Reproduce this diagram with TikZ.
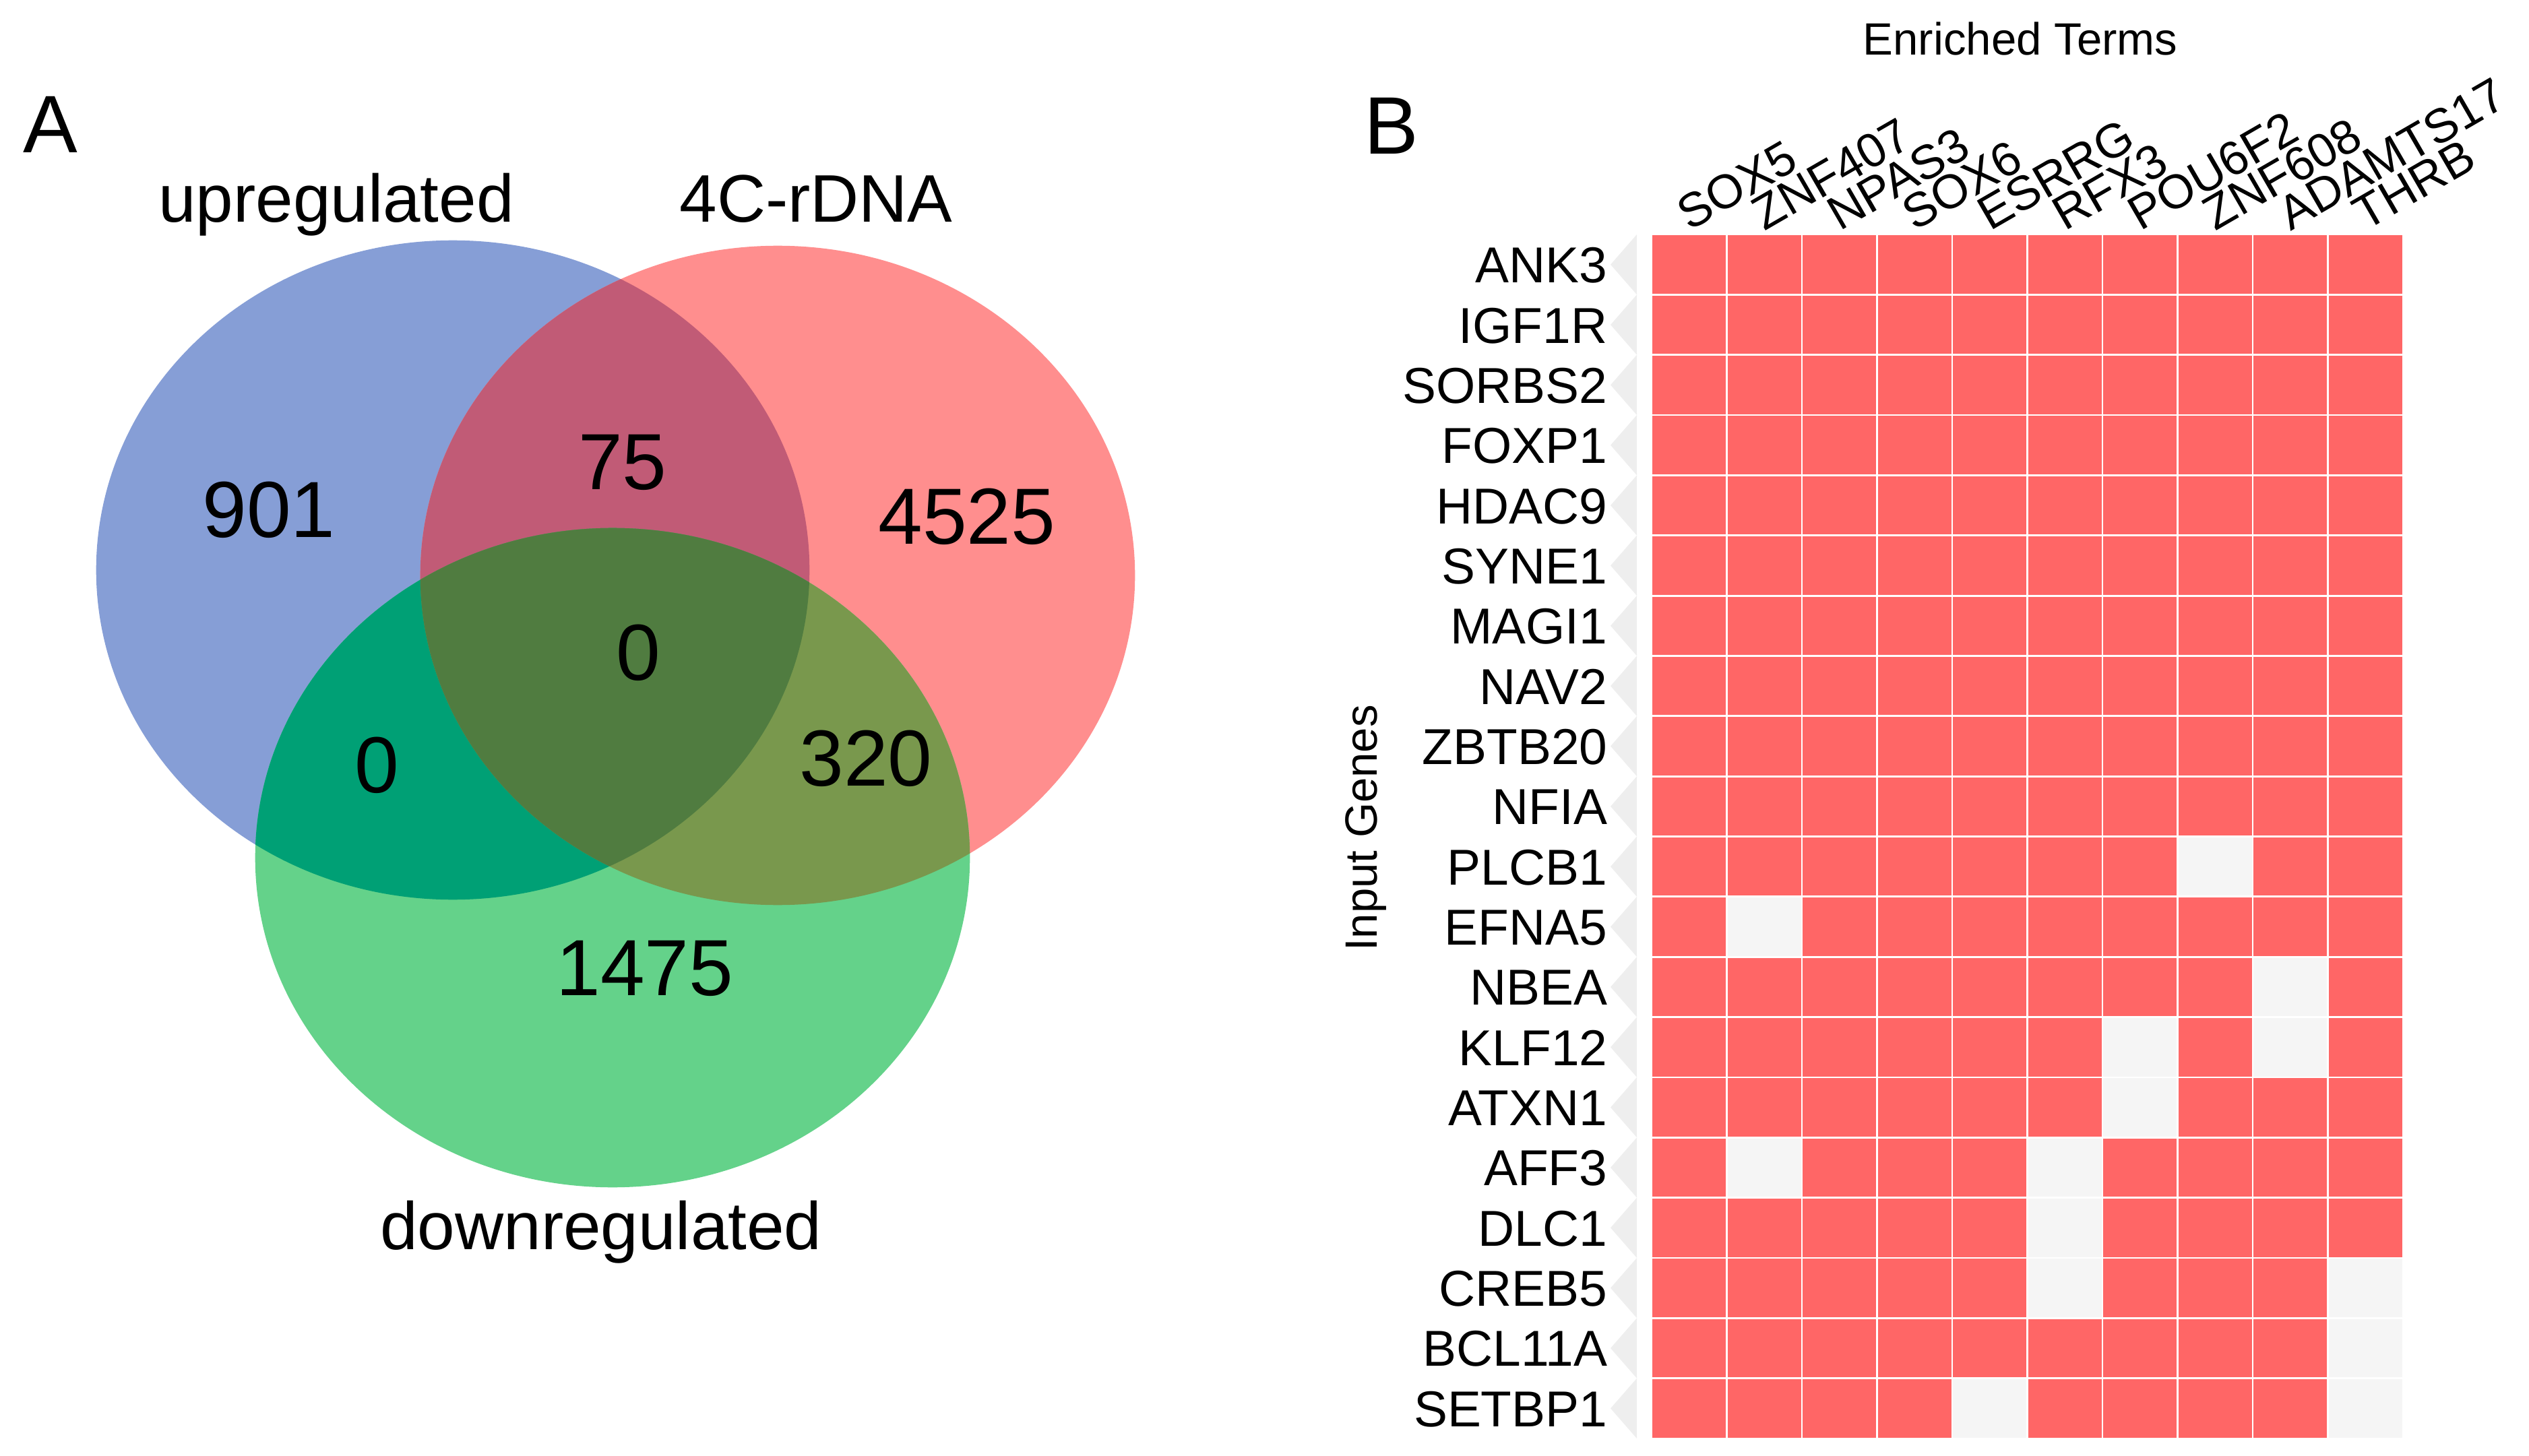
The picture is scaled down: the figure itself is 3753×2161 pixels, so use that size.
\documentclass[tikz,border=0pt]{standalone}
\usepackage{fontspec}
\setmainfont{Liberation Sans}
\usepackage{tikz}
\usetikzlibrary{positioning}

\definecolor{upblue}{RGB}{134,158,214}
\definecolor{rdnared}{RGB}{255,142,142}
\definecolor{downgreen}{RGB}{100,210,138}
\definecolor{upxrdna}{RGB}{193,91,118}
\definecolor{upxdown}{RGB}{0,160,117}
\definecolor{rdnaxdown}{RGB}{121,152,77}
\definecolor{allthree}{RGB}{80,124,64}
\definecolor{hitred}{RGB}{255,102,102}
\definecolor{missgray}{RGB}{245,245,245}
\definecolor{tabgray}{RGB}{238,238,238}

% the three sets of the venn diagram
\def\upset{(672,846) ellipse [x radius=5.29cm, y radius=4.89cm]}
\def\rdnaset{(1154,854) ellipse [x radius=5.30cm, y radius=4.89cm]}
\def\downset{(909,1273) ellipse [x radius=5.30cm, y radius=4.89cm]}

\begin{document}
\begin{tikzpicture}[x=0.01cm,y=-0.01cm]
    \tikzstyle{panel}=[anchor=base west,inner sep=0,font=\fontsize{34.4}{40}\selectfont]
    \tikzstyle{setname}=[anchor=base,inner sep=0,font=\fontsize{28.4}{34}\selectfont]
    \tikzstyle{count}=[inner sep=0,font=\fontsize{33.6}{40}\selectfont]
    \tikzstyle{genelabel}=[anchor=base east,inner sep=0,font=\fontsize{21.3}{26}\selectfont]
    \tikzstyle{termlabel}=[anchor=base west,inner sep=0,rotate=30,font=\fontsize{20.2}{24}\selectfont]
    \tikzstyle{axislabel}=[inner sep=0,font=\fontsize{19.1}{23}\selectfont]
    \tikzstyle{cell}=[draw=white,line width=0.8pt]

    \useasboundingbox (0,0) rectangle (3753,2161);

    % A: venn diagram
    \fill[upblue] \upset;
    \fill[rdnared] \rdnaset;
    \fill[downgreen] \downset;
    \begin{scope}
        \clip \upset;
        \fill[upxrdna] \rdnaset;
        \fill[upxdown] \downset;
    \end{scope}
    \begin{scope}
        \clip \rdnaset;
        \fill[rdnaxdown] \downset;
        \clip \upset;
        \fill[allthree] \downset;
    \end{scope}

    \node[panel] (A) at (34,227) {A};
    \node[setname] (up) at (499,330) {upregulated};
    \node[setname] (rdna) at (1211,330) {4C-rDNA};
    \node[setname] (down) at (892,1854) {downregulated};

    \node[count] (n100) at (399,757) {901};
    \node[count] (n110) at (924,686) {75};
    \node[count] (n010) at (1435,767) {4525};
    \node[count] (n111) at (947,969) {0};
    \node[count] (n101) at (559,1136) {0};
    \node[count] (n011) at (1285,1126) {320};
    \node[count] (n001) at (957,1437) {1475};

    % B: heatmap of genes x enriched terms
    \node[panel] (B) at (2024,229) {B};
    \node[axislabel,anchor=base] (terms) at (2998,82) {Enriched Terms};
    \node[axislabel,anchor=base,rotate=90] (genes) at (2043,1229) {Input Genes};

    \foreach \c in {0,...,9}
        \foreach \r in {0,...,19}
            \fill[hitred,cell] ({2451+\c*111.5},{348+\r*89.35}) rectangle +(111.5,89.35);
    \foreach \c/\r in {7/10,1/11,8/12,6/13,8/13,6/14,1/15,5/15,5/16,5/17,9/17,9/18,4/19,9/19}
        \fill[missgray,cell] ({2451+\c*111.5},{348+\r*89.35}) rectangle +(111.5,89.35);

    \foreach \gene [count=\r from 0] in {ANK3,IGF1R,SORBS2,FOXP1,HDAC9,SYNE1,MAGI1,NAV2,ZBTB20,NFIA,
        PLCB1,EFNA5,NBEA,KLF12,ATXN1,AFF3,DLC1,CREB5,BCL11A,SETBP1} {
        \fill[tabgray] (2429,{348+\r*89.35}) -- (2390,{348+(\r+0.5)*89.35}) -- (2429,{348+(\r+1)*89.35}) -- cycle;
        \node[genelabel] (\gene) at (2386,{348+(\r+0.5)*89.35+27}) {\gene};
    }

    \foreach \term [count=\c from 0] in {SOX5,ZNF407,NPAS3,SOX6,ESRRG,RFX3,POU6F2,ZNF608,ADAMTS17,THRB}
        \node[termlabel] (\term) at ({2451+(\c+0.5)*111.5},344) {\term};

\end{tikzpicture}
\end{document}
